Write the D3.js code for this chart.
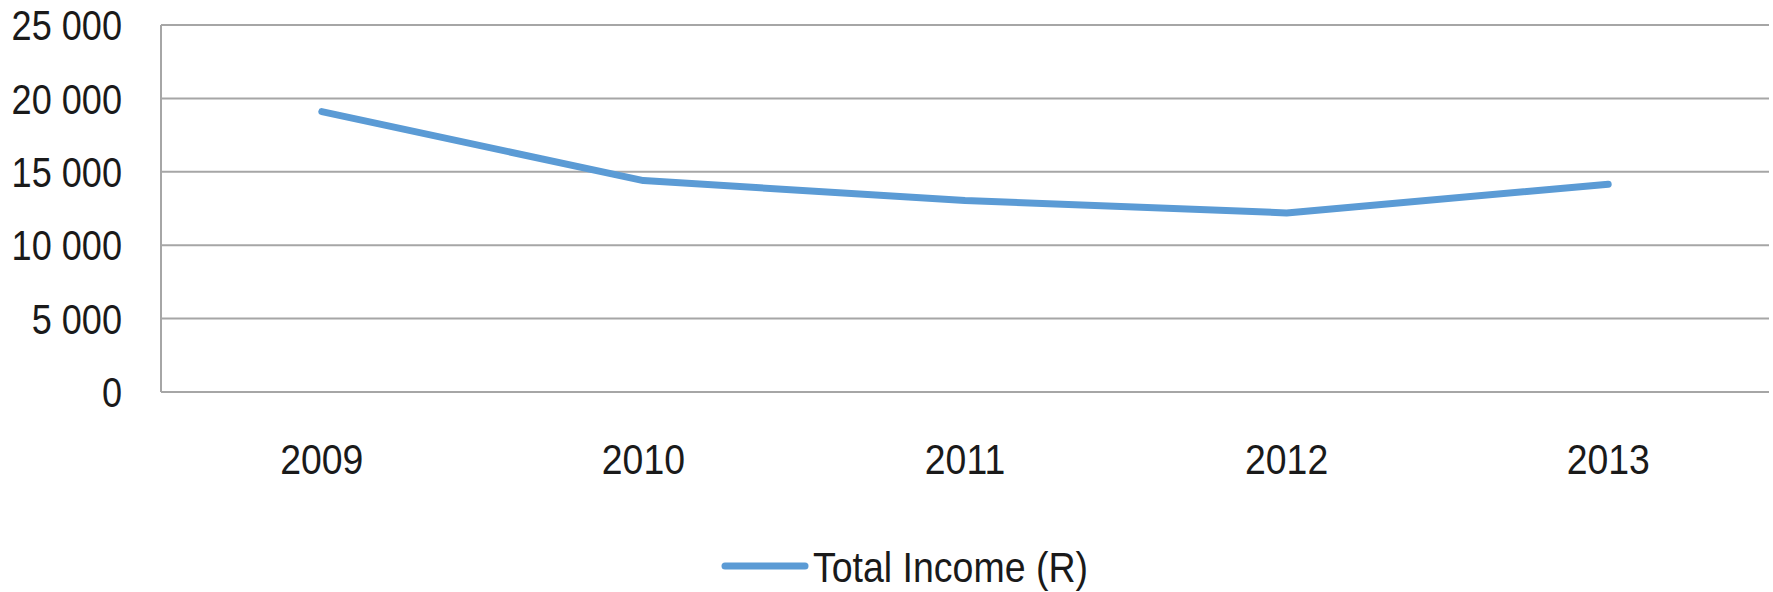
<!DOCTYPE html>
<html>
<head>
<meta charset="utf-8">
<script src="https://cdn.jsdelivr.net/npm/d3@7"></script>
<style>
  body { margin: 0; background: #fff; }
  svg text { font-family: "Liberation Sans Narrow", "Liberation Sans", Arial, sans-serif; fill: #1a1a1a; }
</style>
</head>
<body>
<svg id="chart" width="1773" height="592"></svg>
<script>
// chart data
const years = ['2009', '2010', '2011', '2012', '2013'];
const income = [19100, 14400, 13050, 12200, 14150];
const yTicks = [0, 5000, 10000, 15000, 20000, 25000];
const seriesName = 'Total Income (R)';

const width = 1773, height = 592;
const margin = { top: 25, right: 4, bottom: 200, left: 161 };
const squeeze = 0.86; // narrow the glyphs like the original

const svg = d3.select('#chart');

const x = d3.scaleBand()
    .domain(years)
    .range([margin.left, width - margin.right]);

const y = d3.scaleLinear()
    .domain([0, 25000])
    .range([height - margin.bottom, margin.top]);

const fmt = v => d3.format(',')(v).replace(/,/g, ' ');

// gridlines
svg.append('g')
    .selectAll('line')
    .data(yTicks)
    .join('line')
    .attr('x1', margin.left)
    .attr('x2', width - margin.right)
    .attr('y1', d => y(d))
    .attr('y2', d => y(d))
    .attr('stroke', '#a6a6a6')
    .attr('stroke-width', 2);

// left axis line
svg.append('line')
    .attr('x1', margin.left).attr('x2', margin.left)
    .attr('y1', y(25000)).attr('y2', y(0))
    .attr('stroke', '#a6a6a6')
    .attr('stroke-width', 2);

// y labels
svg.append('g')
    .selectAll('text')
    .data(yTicks)
    .join('text')
    .attr('transform', d => `translate(122,${y(d)}) scale(${squeeze},1)`)
    .attr('dy', '0.36em')
    .attr('text-anchor', 'end')
    .attr('font-size', 42)
    .text(fmt);

// x labels
svg.append('g')
    .selectAll('text')
    .data(years)
    .join('text')
    .attr('transform', d => `translate(${x(d) + x.bandwidth() / 2},474) scale(0.89,1)`)
    .attr('text-anchor', 'middle')
    .attr('font-size', 42)
    .text(d => d);

// line
const line = d3.line()
    .x((d, i) => x(years[i]) + x.bandwidth() / 2)
    .y(d => y(d));

svg.append('path')
    .datum(income)
    .attr('d', line)
    .attr('fill', 'none')
    .attr('stroke', '#5b9bd5')
    .attr('stroke-width', 7)
    .attr('stroke-linecap', 'round')
    .attr('stroke-linejoin', 'round');

// legend
const legend = svg.append('g');
legend.append('line')
    .attr('x1', 725).attr('x2', 805)
    .attr('y1', 566).attr('y2', 566)
    .attr('stroke', '#5b9bd5')
    .attr('stroke-width', 7)
    .attr('stroke-linecap', 'round');
legend.append('text')
    .attr('x', 813)
    .attr('y', 582)
    .attr('font-size', 42)
    .attr('textLength', 275)
    .attr('lengthAdjust', 'spacingAndGlyphs')
    .text(seriesName);
</script>
</body>
</html>
